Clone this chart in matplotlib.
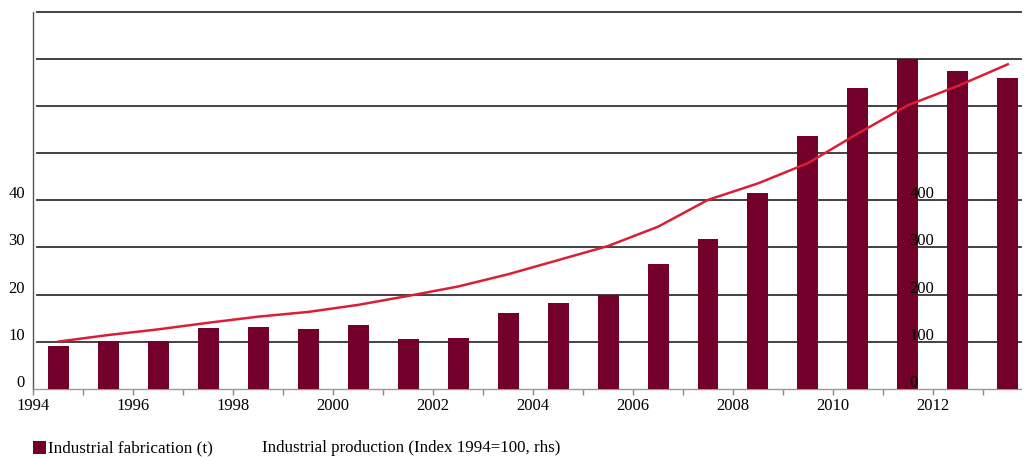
import matplotlib
matplotlib.use("Agg")
import matplotlib.pyplot as plt
import matplotlib.transforms as mtransforms
from matplotlib.patches import Rectangle

plt.rcParams['font.family'] = ['Liberation Serif', 'DejaVu Serif']

years = list(range(1994, 2014))
fabrication = [9.1, 10.2, 10.2, 12.9, 13.2, 12.6, 13.5, 10.5, 10.8, 16.0,
               18.1, 20.0, 26.5, 31.7, 41.5, 53.6, 63.8, 70.0, 67.4, 66.0]
production = [100, 114, 126, 140, 153, 163, 178, 197, 217, 243,
              273, 303, 344, 401, 436, 479, 542, 602, 643, 689]
left_ticks = [0, 10, 20, 30, 40]
right_ticks = [0, 100, 200, 300, 400]
grid_levels = [10, 20, 30, 40, 50, 60, 70, 80]
x_label_years = list(range(1994, 2013, 2))

bar_color = '#72002a'
line_color = '#d91f36'
fs = 12

fig = plt.figure(figsize=(10.24, 4.57), dpi=100)
ax = fig.add_axes([0.0326, 0.1495, 0.9643, 0.8242])

centers = [y + 0.5 for y in years]
ax.bar(centers, fabrication, width=0.42, color=bar_color, zorder=3)

for g in grid_levels:
    ax.axhline(g, xmin=0.004, xmax=1, color='#333333', linewidth=1.3, zorder=1, clip_on=False)

ax.set_xlim(1994, 2013.76)
ax.set_ylim(0, 80)

for s in ['top', 'right']:
    ax.spines[s].set_visible(False)
ax.spines['left'].set_color('#555555')
ax.spines['left'].set_linewidth(1.0)
ax.spines['bottom'].set_color('#999999')
ax.spines['bottom'].set_linewidth(1.0)

ax.set_yticks(left_ticks)
ax.set_yticklabels([str(v) for v in left_ticks])
ax.tick_params(axis='y', length=0, pad=6, labelsize=fs)
off = mtransforms.ScaledTranslation(0, 2 / 100, fig.dpi_scale_trans)
for lab in ax.get_yticklabels():
    lab.set_va('baseline')
    lab.set_transform(lab.get_transform() + off)

ax.set_xticks(years)
ax.set_xticklabels([str(y) if y in x_label_years else '' for y in years])
ax.tick_params(axis='x', length=4, width=1, color='#888888', direction='out',
               pad=3, labelsize=fs)

ax2 = ax.twinx()
ax2.set_ylim(0, 800)
ax2.plot(centers, production, color=line_color, linewidth=1.8, zorder=4)
for s in ['top', 'left', 'bottom']:
    ax2.spines[s].set_visible(False)
ax2.spines['right'].set_visible(False)
ax2.spines['right'].set_position(('data', 2011.53))
ax2.set_yticks(right_ticks)
ax2.set_yticklabels([str(v) for v in right_ticks])
ax2.tick_params(axis='y', length=0, pad=0, labelsize=fs)
for lab in ax2.get_yticklabels():
    lab.set_va('baseline')
    lab.set_transform(lab.get_transform() + off)

# legend
fig.patches.append(Rectangle((33 / 1024, 1 - 454 / 457), 13 / 1024, 13 / 457,
                             transform=fig.transFigure, facecolor=bar_color,
                             edgecolor='none'))
fig.text(48 / 1024, 1 - 448 / 457, 'Industrial fabrication (t)', fontsize=12.3,
         va='center', ha='left')
fig.text(262 / 1024, 1 - 448 / 457, 'Industrial production (Index 1994=100, rhs)',
         fontsize=12.2, va='center', ha='left')

fig.savefig('out.png', dpi=100)
